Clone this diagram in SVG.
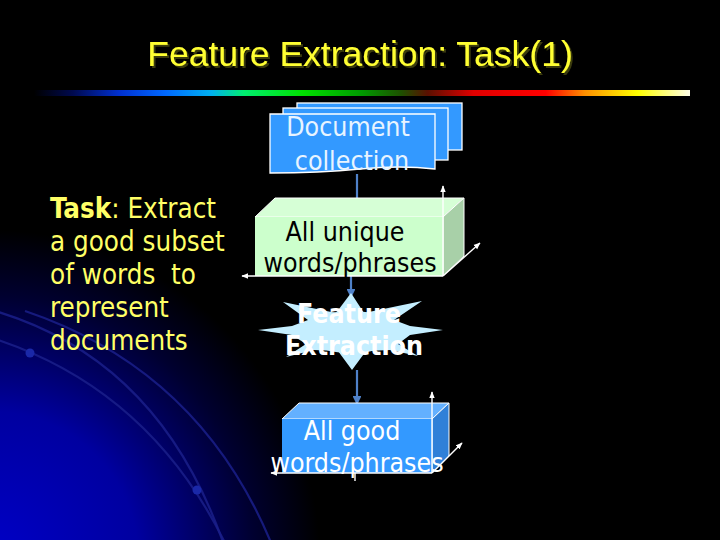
<svg xmlns="http://www.w3.org/2000/svg" width="720" height="540" viewBox="0 0 720 540">
<defs>
<radialGradient id="glow" cx="-10" cy="560" r="330" gradientUnits="userSpaceOnUse">
<stop offset="0" stop-color="#0000c8"/>
<stop offset="0.45" stop-color="#0000a0"/>
<stop offset="0.8" stop-color="#000030"/>
<stop offset="1" stop-color="#000000"/>
</radialGradient>
<linearGradient id="bar" x1="0" y1="0" x2="1" y2="0">
<stop offset="0" stop-color="#000000"/>
<stop offset="0.06" stop-color="#000a50"/>
<stop offset="0.13" stop-color="#0030d0"/>
<stop offset="0.2" stop-color="#0068ff"/>
<stop offset="0.27" stop-color="#00b0f0"/>
<stop offset="0.32" stop-color="#00ee70"/>
<stop offset="0.41" stop-color="#00e000"/>
<stop offset="0.5" stop-color="#009a00"/>
<stop offset="0.56" stop-color="#1e5000"/>
<stop offset="0.6" stop-color="#5a1000"/>
<stop offset="0.67" stop-color="#e00000"/>
<stop offset="0.78" stop-color="#ff0000"/>
<stop offset="0.84" stop-color="#ff9000"/>
<stop offset="0.92" stop-color="#ffff00"/>
<stop offset="1" stop-color="#ffffe8"/>
</linearGradient>
<filter id="shadow" x="-5%" y="-20%" width="110%" height="150%">
<feDropShadow dx="2" dy="2" stdDeviation="0.6" flood-color="#3a3a10" flood-opacity="1"/>
</filter>
<marker id="ab" viewBox="0 0 10 10" refX="9" refY="5" markerWidth="4" markerHeight="4" orient="auto">
<path d="M0,0 L10,5 L0,10 z" fill="#4f81c8"/>
</marker>
<marker id="aw" viewBox="0 0 10 10" refX="9" refY="5" markerWidth="5" markerHeight="5" orient="auto">
<path d="M0,1 L10,5 L0,9 z" fill="#ffffff"/>
</marker>
<style>
.arc{fill:none;stroke:#1a1f8a;stroke-width:2.2;opacity:0.85}
.dot{fill:#1a28a8}
.lt{font-family:"DejaVu Sans Condensed","DejaVu Sans",sans-serif;font-stretch:condensed;font-size:27.5px;fill:#ffff66}
.bx{font-family:"DejaVu Sans Condensed","DejaVu Sans",sans-serif;font-stretch:condensed;font-size:26.5px;text-anchor:middle}
.doc{fill:#3399ff;stroke:#ffffff;stroke-width:1.3}
.edge{stroke:#ffffff;stroke-width:1}
.conn{stroke:#4f81c8;stroke-width:2.2;fill:none;marker-end:url(#ab)}
.axis{stroke:#ffffff;stroke-width:1.4;fill:none;marker-end:url(#aw)}
</style>
</defs>
<rect width="720" height="540" fill="#000000"/>
<rect width="720" height="540" fill="url(#glow)"/>
<g id="background-arcs">
<path class="arc" d="M-5,339 Q150,390 226,545"/>
<path class="arc" d="M-5,311 Q160,360 224,545"/>
<path class="arc" d="M25,311 Q200,370 272,545"/>
<circle class="dot" cx="30" cy="353" r="4.5"/>
<circle class="dot" cx="197" cy="490" r="4.5"/>
</g>
<g id="title">
<text x="360" y="66" font-family="'Liberation Sans',Arial,sans-serif" font-size="35.5" text-anchor="middle" fill="#ffff33" filter="url(#shadow)">Feature Extraction: Task(1)</text>
</g>
<rect x="34" y="90" width="656" height="6" fill="url(#bar)"/>
<g id="task-text">
<text class="lt" x="50" y="218"><tspan font-weight="bold">Task</tspan>: Extract</text>
<text class="lt" x="50" y="251">a good subset</text>
<text class="lt" x="50" y="284" xml:space="preserve">of words  to</text>
<text class="lt" x="50" y="317">represent</text>
<text class="lt" x="50" y="350">documents</text>
</g>
<g id="connectors">
<line class="conn" x1="357" y1="174" x2="357" y2="206"/>
<line class="conn" x1="351" y1="273" x2="351" y2="297"/>
<line class="conn" x1="357" y1="370" x2="357" y2="404"/>
</g>
<g id="document-collection">
<rect class="doc" x="297" y="103" width="165" height="47"/>
<rect class="doc" x="283" y="108" width="165" height="52"/>
<path class="doc" d="M270,114 H435 V169 Q400,165 360,169 T270,173 Z"/>
<text class="bx" x="348" y="136" fill="#e8f4ff">Document</text>
<text class="bx" x="352" y="170" fill="#e8f4ff">collection</text>
</g>
<g id="all-unique">
<polygon points="255,217 275,198 464,198 443,217" fill="#d6ffd6" class="edge"/>
<polygon points="443,217 464,198 464,256 443,276" fill="#a8d0a8" class="edge"/>
<rect x="255" y="217" width="188" height="59" fill="#ccffcc"/>
<line class="axis" x1="443" y1="276" x2="443" y2="186"/>
<line class="axis" x1="443" y1="276" x2="242" y2="276"/>
<line class="axis" x1="443" y1="276" x2="480" y2="243"/>
<text class="bx" x="345" y="241" fill="#000000">All unique</text>
<text class="bx" x="350" y="272" fill="#000000">words/phrases</text>
</g>
<g id="feature-extraction">
<polygon fill="#c4eeff" points="351,293 364,313 422,301 394,320 410,326 443,330 410,335 398,344 418,356 390,350 366,351 352,370 338,351 314,350 286,357 306,344 292,335 258,330 292,326 308,320 283,302 336,313"/>
<ellipse cx="351" cy="332" rx="49" ry="21" fill="#c4eeff"/>
<text class="bx" x="349" y="323" fill="#ffffff" font-weight="bold">Feature</text>
<text class="bx" x="354" y="355" fill="#ffffff" font-weight="bold">Extraction</text>
</g>
<g id="all-good">
<polygon points="282,419 299,403 449,403 432,419" fill="#63b0ff" class="edge"/>
<polygon points="432,419 449,403 449,456 432,473" fill="#2f80d8" class="edge"/>
<rect x="282" y="419" width="150" height="54" fill="#3399ff"/>
<line class="axis" x1="432" y1="473" x2="432" y2="392"/>
<line class="axis" x1="432" y1="473" x2="271" y2="473"/>
<line class="axis" x1="432" y1="473" x2="462" y2="443"/>
<line x1="355" y1="473" x2="355" y2="481" stroke="#ffffff" stroke-width="1.4"/>
<text class="bx" x="352" y="440" fill="#ffffff">All good</text>
<text class="bx" x="357" y="472" fill="#ffffff">words/phrases</text>
</g>
</svg>
